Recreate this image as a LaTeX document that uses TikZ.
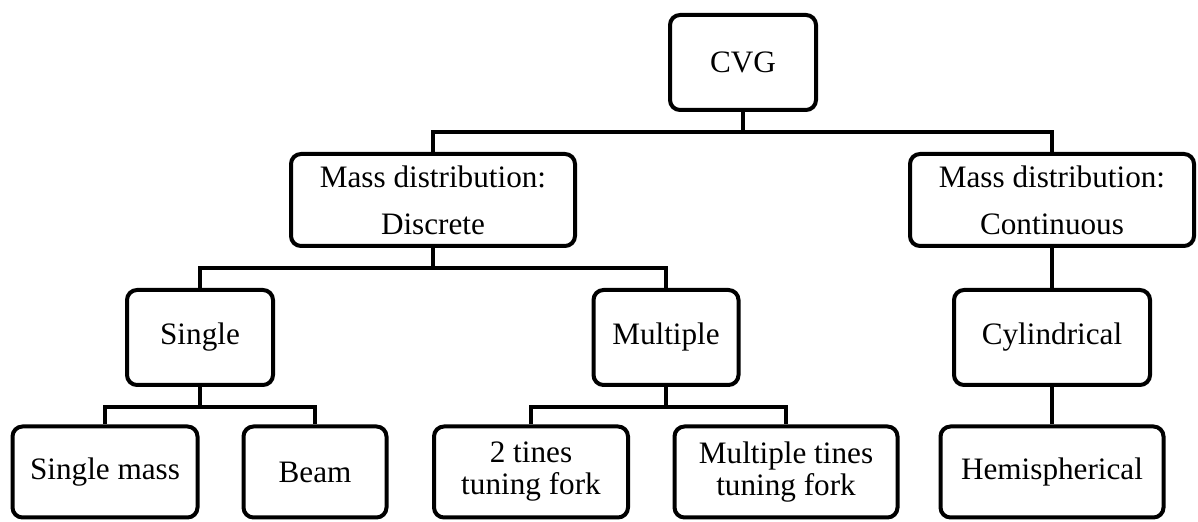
\documentclass[tikz,border=0pt]{standalone}
\usepackage{fontspec}
\setmainfont{Liberation Serif}
\tikzset{
	box/.style={draw, line width=2pt, rounded corners=5pt, align=center, inner sep=0pt, font=\fontsize{15.6}{16}\selectfont},
	wide/.style={box, minimum width=142pt, minimum height=46pt, font=\fontsize{15.6}{23.5}\selectfont},
	mid/.style={box, minimum height=47.5pt},
	low/.style={box, minimum height=45.5pt},
	conn/.style={line width=2pt}
}
\begin{document}
\begin{tikzpicture}[x=0.5pt,y=-0.5pt]
				\useasboundingbox (0,0) rectangle (1198,522);
				\node[mid, minimum width=73pt] (cvg) at (743,62.5) {CVG};
				\node[wide] (disc) at (433,200) {Mass distribution:\\Discrete};
				\node[wide] (cont) at (1052,200) {Mass distribution:\\Continuous};
				\node[mid, minimum width=73pt] (single) at (200,337.5) {Single};
				\node[mid, minimum width=72.5pt] (multi) at (666,337.5) {Multiple};
				\node[mid, minimum width=98pt] (cyl) at (1052,337.5) {Cylindrical};
				\node[low, minimum width=92.5pt] (smass) at (105,472) {Single mass};
				\node[low, minimum width=71.5pt] (beam) at (315,472) {Beam};
				\node[low, minimum width=97pt] (twotine) at (531,472) {2 tines\\tuning fork};
				\node[low, minimum width=111.5pt] (multine) at (786,472) {Multiple tines\\tuning fork};
				\node[low, minimum width=111.5pt] (hemi) at (1052,472) {Hemispherical};
				\draw[conn] (cvg.south) -- ++(0,20) -| (disc.north);
				\draw[conn] (cvg.south) -- ++(0,20) -| (cont.north);
				\draw[conn] (disc.south) -- ++(0,20) -| (single.north);
				\draw[conn] (disc.south) -- ++(0,20) -| (multi.north);
				\draw[conn] (cont.south) -- (cyl.north);
				\draw[conn] (single.south) -- ++(0,20) -| (smass.north);
				\draw[conn] (single.south) -- ++(0,20) -| (beam.north);
				\draw[conn] (multi.south) -- ++(0,20) -| (twotine.north);
				\draw[conn] (multi.south) -- ++(0,20) -| (multine.north);
				\draw[conn] (cyl.south) -- (hemi.north);
			\end{tikzpicture}
\end{document}
